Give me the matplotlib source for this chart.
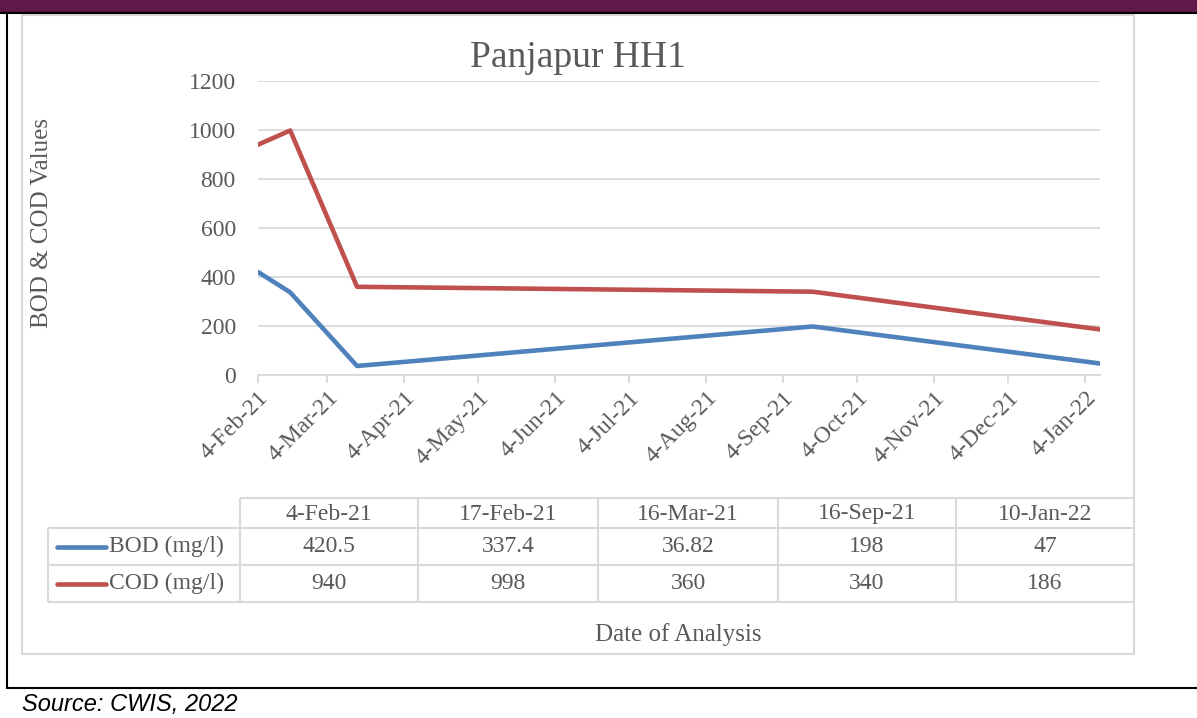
import matplotlib
matplotlib.use("Agg")
import matplotlib.pyplot as plt
import matplotlib.dates as mdates
from matplotlib.lines import Line2D
from matplotlib.patches import Rectangle
from datetime import datetime

# sampling dates and measured values
dates = ["4-Feb-21", "17-Feb-21", "16-Mar-21", "16-Sep-21", "10-Jan-22"]
bod = [420.5, 337.4, 36.82, 198, 47]
cod = [940, 998, 360, 340, 186]
series_names = ["BOD (mg/l)", "COD (mg/l)"]
series_colors = ["#4F81BD", "#C0504D"]

W, H = 1197, 718
TXT = "#595959"
GRID = "#D9D9D9"
SERIF = ["Liberation Serif", "DejaVu Serif"]
FS = 17

x = [datetime.strptime(d, "%d-%b-%y") for d in dates]

fig = plt.figure(figsize=(W / 100, H / 100), dpi=100)


def fx(px):
    return px / W


def fy(py):
    return 1 - py / H


def hline(x0, x1, y, color, lw):
    fig.add_artist(Line2D([fx(x0), fx(x1)], [fy(y), fy(y)], color=color, lw=lw,
                          transform=fig.transFigure, solid_capstyle="butt"))


def vline(xp, y0, y1, color, lw):
    fig.add_artist(Line2D([fx(xp), fx(xp)], [fy(y0), fy(y1)], color=color, lw=lw,
                          transform=fig.transFigure, solid_capstyle="butt"))


# header band and page frame
fig.add_artist(Rectangle((0, fy(13)), 1, 13 / H, transform=fig.transFigure,
                         facecolor="#5F1847", edgecolor="none"))
hline(0, W, 13, "black", 1.5)
vline(6.5, 13, 688, "black", 1.5)
hline(6, W, 688, "black", 1.5)

# chart area border
fig.add_artist(Rectangle((fx(22), fy(654)), fx(1134) - fx(22), fy(15) - fy(654),
                         transform=fig.transFigure, facecolor="none",
                         edgecolor=GRID, lw=1.5))

ax = fig.add_axes([fx(258), fy(375), fx(1100) - fx(258), fy(81) - fy(375)])
ax.plot(x, bod, color=series_colors[0], lw=3.3, solid_capstyle="round")
ax.plot(x, cod, color=series_colors[1], lw=3.3, solid_capstyle="round")

ax.set_xlim(x[0], x[-1])
ax.set_ylim(0, 1200)
ax.set_yticks(range(0, 1201, 200))
ax.grid(axis="y", color=GRID, lw=1.3)
ax.set_axisbelow(True)
for s in ["top", "right", "left"]:
    ax.spines[s].set_visible(False)
ax.spines["bottom"].set_color(GRID)
ax.spines["bottom"].set_linewidth(1.3)

ax.xaxis.set_major_locator(mdates.MonthLocator(bymonthday=4))
ax.xaxis.set_major_formatter(mdates.DateFormatter("%-d-%b-%y"))
ax.tick_params(axis="x", colors=GRID, length=6, width=1.3, direction="out", pad=3)
ax.tick_params(axis="y", length=0, pad=16)
for lab in ax.get_xticklabels():
    lab.set_rotation(45)
    lab.set_ha("right")
    lab.set_va("top")
    lab.set_rotation_mode("anchor")
    lab.set_color(TXT)
    lab.set_fontsize(FS)
    lab.set_family(SERIF)
for lab in ax.get_yticklabels():
    lab.set_color(TXT)
    lab.set_fontsize(FS)
    lab.set_family(SERIF)

fig.text(fx(578), fy(58), "Panjapur HH1", ha="center", va="center",
         fontsize=27, color=TXT, family=SERIF)
fig.text(fx(42), fy(223), "BOD & COD Values", ha="center", va="center",
         rotation=90, fontsize=18, color=TXT, family=SERIF)
fig.text(fx(678), fy(635), "Date of Analysis", ha="center", va="center",
         fontsize=18, color=TXT, family=SERIF)

# data table under the axis
col_edges = [240, 418, 598, 778, 956, 1134]
row_edges = [498, 528, 565, 602]
hline(col_edges[0], col_edges[-1], row_edges[0], GRID, 1.5)
for yy in row_edges[1:]:
    hline(48, col_edges[-1], yy, GRID, 1.5)
vline(48, row_edges[1], row_edges[-1], GRID, 1.5)
for xx in col_edges:
    vline(xx, row_edges[0], row_edges[-1], GRID, 1.5)

for i, d in enumerate(dates):
    cx = (col_edges[i] + col_edges[i + 1]) / 2
    fig.text(fx(cx), fy(514), d, ha="center", va="center", fontsize=FS,
             color=TXT, family=SERIF)
for r, vals in enumerate([bod, cod]):
    cy = (row_edges[r + 1] + row_edges[r + 2]) / 2
    fig.add_artist(Line2D([fx(57), fx(106)], [fy(cy), fy(cy)], color=series_colors[r],
                          lw=3.3, solid_capstyle="round", transform=fig.transFigure))
    fig.text(fx(109), fy(cy), series_names[r], ha="left", va="center", fontsize=FS,
             color=TXT, family=SERIF)
    for i, v in enumerate(vals):
        cx = (col_edges[i] + col_edges[i + 1]) / 2
        fig.text(fx(cx), fy(cy), f"{v:g}", ha="center", va="center", fontsize=FS,
                 color=TXT, family=SERIF)

fig.text(fx(22), fy(705), "Source: CWIS, 2022", ha="left", va="center",
         fontsize=17, style="italic", color="black",
         family=["Liberation Sans", "DejaVu Sans"])

fig.savefig("out.png", dpi=100)
